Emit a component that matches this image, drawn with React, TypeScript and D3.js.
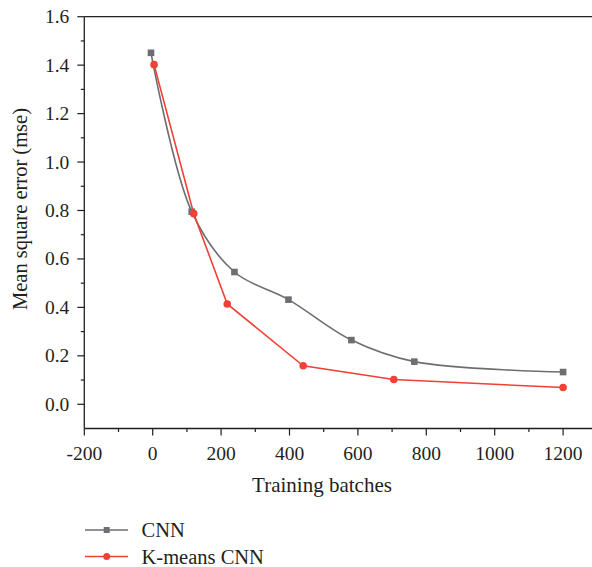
import React from "react";
import * as d3 from "d3";

const cnnX = [-5, 114, 239, 397, 581, 765, 1200];
const cnnY = [1.451, 0.795, 0.546, 0.432, 0.265, 0.176, 0.133];
const kmX = [4, 120, 218, 440, 705, 1200];
const kmY = [1.402, 0.787, 0.414, 0.159, 0.102, 0.069];
const xTicks = [-200, 0, 200, 400, 600, 800, 1000, 1200];
const yTicks = [0.0, 0.2, 0.4, 0.6, 0.8, 1.0, 1.2, 1.4, 1.6];
const seriesNames = ["CNN", "K-means CNN"];

const W = 592, H = 567;
const FONT = "'Liberation Serif', 'DejaVu Serif', serif";
const AX = "#231f20";
const GREY = "#6d6e71";
const RED = "#ef4136";

export default function App() {
  const x = d3.scaleLinear().domain([-200, 1300]).range([84.3, 597.3]);
  const y = d3.scaleLinear().domain([-0.1, 1.6]).range([428.5, 16.7]);
  const left = x(-200), bottom = y(-0.1), top = y(1.6), right = x(1300);
  const xMinor = d3.range(-100, 1300, 200);
  const yMinor = d3.range(-0.1, 1.6, 0.2).map((v) => +v.toFixed(2));

  const cnn = cnnX.map((v, i) => [v, cnnY[i]] as [number, number]);
  const km = kmX.map((v, i) => [v, kmY[i]] as [number, number]);
  const greyLine = d3.line<[number, number]>().x((d) => x(d[0])).y((d) => y(d[1])).curve(d3.curveCatmullRom.alpha(0.5));
  const redLine = d3.line<[number, number]>().x((d) => x(d[0])).y((d) => y(d[1]));

  return (
    <svg width={W} height={H} style={{ position: "absolute", left: 0, top: 0, background: "#fff" }} fontFamily={FONT}>
      <rect width={W} height={H} fill="#fff" />
      {/* frame */}
      <line x1={left} x2={right} y1={top} y2={top} stroke={AX} strokeWidth={1.3} />
      <line x1={left} x2={right} y1={bottom} y2={bottom} stroke={AX} strokeWidth={1.3} />
      <line x1={left} x2={left} y1={top} y2={bottom} stroke={AX} strokeWidth={1.3} />
      {/* x ticks */}
      {xTicks.map((t) => (
        <g key={"xt" + t}>
          <line x1={x(t)} x2={x(t)} y1={bottom} y2={bottom + 7} stroke={AX} strokeWidth={1.2} />
          <text x={x(t)} y={bottom + 31} textAnchor="middle" fontSize={19.5} fill={AX}>{t}</text>
        </g>
      ))}
      {xMinor.map((t) => (
        <line key={"xm" + t} x1={x(t)} x2={x(t)} y1={bottom} y2={bottom + 3.5} stroke={AX} strokeWidth={1.2} />
      ))}
      {/* y ticks */}
      {yTicks.map((t) => (
        <g key={"yt" + t}>
          <line x1={left - 7} x2={left} y1={y(t)} y2={y(t)} stroke={AX} strokeWidth={1.2} />
          <text x={left - 15} y={y(t) + 6.5} textAnchor="end" fontSize={19.5} fill={AX}>{t.toFixed(1)}</text>
        </g>
      ))}
      {yMinor.filter((t) => t > -0.09).map((t) => (
        <line key={"ym" + t} x1={left - 3.5} x2={left} y1={y(t)} y2={y(t)} stroke={AX} strokeWidth={1.2} />
      ))}
      {/* titles */}
      <text x={322} y={491.5} textAnchor="middle" fontSize={21} fill={AX}>Training batches</text>
      <text transform={`translate(27, 209) rotate(-90)`} textAnchor="middle" fontSize={20.5} fill={AX}>Mean square error (mse)</text>
      {/* series */}
      <path d={greyLine(cnn) || ""} fill="none" stroke={GREY} strokeWidth={1.6} />
      {cnn.map((d, i) => (
        <rect key={"s" + i} x={x(d[0]) - 3.3} y={y(d[1]) - 3.3} width={6.6} height={6.6} fill={GREY} />
      ))}
      <path d={redLine(km) || ""} fill="none" stroke={RED} strokeWidth={1.6} />
      {km.map((d, i) => (
        <circle key={"c" + i} cx={x(d[0])} cy={y(d[1])} r={3.8} fill={RED} />
      ))}
      {/* legend */}
      {seriesNames.map((n, i) => {
        const ly = 530 + i * 26.5;
        const c = i === 0 ? GREY : RED;
        return (
          <g key={n}>
            <line x1={85} x2={128} y1={ly} y2={ly} stroke={c} strokeWidth={1.6} />
            {i === 0 ? (
              <rect x={106.7 - 3} y={ly - 3} width={6} height={6} fill={c} />
            ) : (
              <circle cx={106.7} cy={ly} r={3.5} fill={c} />
            )}
            <text x={141.5} y={ly + 7} fontSize={20.5} fill={AX}>{n}</text>
          </g>
        );
      })}
    </svg>
  );
}
